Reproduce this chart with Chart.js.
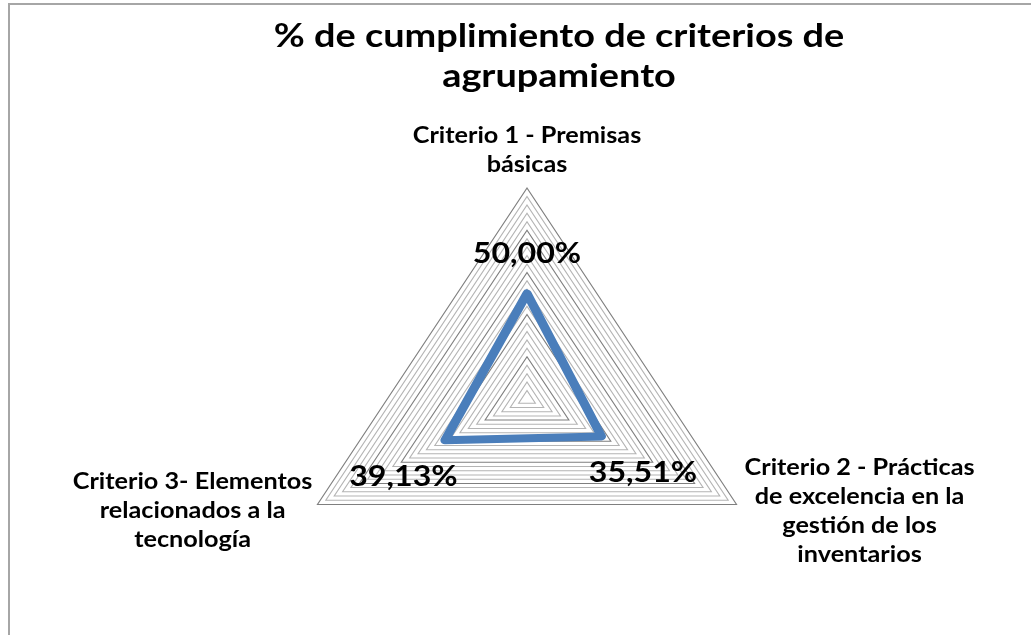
<!DOCTYPE html>
<html>
<head>
<meta charset="utf-8">
<script src="https://cdn.jsdelivr.net/npm/chart.js@4"></script>
<style>
  body { margin: 0; background: #fff; }
  #wrap { position: relative; width: 1031px; height: 635px; overflow: hidden; }
  #frame { position: absolute; left: 8px; top: 3px; width: 1200px; height: 800px; border: 2px solid #a6a6a6; }
  #title { position: absolute; left: 0; top: 14px; width: 1118px; text-align: center;
           font: bold 33px Lato, sans-serif; line-height: 40px; color: #000;
           transform: scaleX(1.147); transform-origin: 559px 0; }
  canvas { position: absolute; left: 0; top: 0; }
</style>
</head>
<body>
<div id="wrap">
  <div id="frame"></div>
  <canvas id="radar" width="1031" height="635"></canvas>
  <div id="title">% de cumplimiento de criterios de<br>agrupamiento</div>
</div>
<script>
// axis labels (one line per entry)
const categories = [
  ['Criterio 1 - Premisas', 'básicas'],
  ['Criterio 2 - Prácticas', 'de excelencia en la', 'gestión de los', 'inventarios'],
  ['Criterio 3- Elementos', 'relacionados a la', 'tecnología']
];
const values = [0.5, 0.3551, 0.3913];
const scaleMax = 1;
const ringStep = 0.04;

// the original picture is stretched sideways, text included
const stretchX = 1.147;

const fmt = v => (v * 100).toFixed(2).replace('.', ',') + '%';

function wideText(ctx, text, x, y) {
  ctx.save();
  ctx.translate(x, y);
  ctx.scale(stretchX, 1);
  ctx.fillText(text, 0, 0);
  ctx.restore();
}

const stretchPlugin = {
  id: 'stretch',
  beforeDraw(chart) {
    const s = chart.scales.r, ctx = chart.ctx;
    ctx.save();
    ctx.translate(s.xCenter, 0);
    ctx.scale(stretchX, 1);
    ctx.translate(-s.xCenter, 0);
  },
  afterDatasetsDraw(chart) {
    chart.ctx.restore();
  }
};

const labelPlugin = {
  id: 'labels',
  afterDraw(chart) {
    const s = chart.scales.r, ctx = chart.ctx;
    const sx = p => s.xCenter + (p.x - s.xCenter) * stretchX;
    ctx.save();
    ctx.fillStyle = '#000';
    ctx.textAlign = 'center';
    ctx.textBaseline = 'middle';

    ctx.font = 'bold 22px Lato';
    const lh = 29;
    categories.forEach((lines, i) => {
      const v = s.getPointPosition(i, s.drawingArea);
      const vx = sx(v), vy = v.y;
      const w = stretchX * Math.max(...lines.map(l => ctx.measureText(l).width));
      let x, y0;
      if (i === 0) { x = vx; y0 = vy - 23 - (lines.length - 1) * lh; }
      else if (i === 1) { x = vx + 8 + w / 2; y0 = vy - 37; }
      else { x = vx - 5 - w / 2; y0 = vy - 23; }
      lines.forEach((l, k) => wideText(ctx, l, x, y0 + k * lh));
    });

    ctx.font = 'bold 28px Lato';
    values.forEach((v, i) => {
      const p = s.getPointPositionForValue(i, v);
      const ang = s.getIndexAngle(i) - Math.PI / 2;
      const dy = Math.sin(ang) > 0 ? 5 : 0;
      wideText(ctx, fmt(v), sx(p) + Math.cos(ang) * 48, p.y + Math.sin(ang) * 48 + 8 + dy);
    });
    ctx.restore();
  }
};

new Chart(document.getElementById('radar'), {
  type: 'radar',
  data: {
    labels: categories,
    datasets: [{
      data: values,
      borderColor: '#4a7ebb',
      borderWidth: 8,
      borderJoinStyle: 'round',
      fill: false,
      pointRadius: 0,
      pointHoverRadius: 0,
      tension: 0
    }]
  },
  options: {
    responsive: false,
    animation: false,
    layout: { padding: { left: 316, right: 293, top: 188, bottom: 25 } },
    plugins: { legend: { display: false }, tooltip: { enabled: false } },
    scales: {
      r: {
        min: 0,
        max: scaleMax,
        ticks: { display: false, stepSize: ringStep },
        pointLabels: { display: false },
        angleLines: { display: false },
        grid: {
          lineWidth: 1,
          color: c => (Math.round(c.tick.value * 100) % 20 === 0 ? '#7f7f7f' : '#b4b4b4')
        }
      }
    }
  },
  plugins: [stretchPlugin, labelPlugin]
});
</script>
</body>
</html>
